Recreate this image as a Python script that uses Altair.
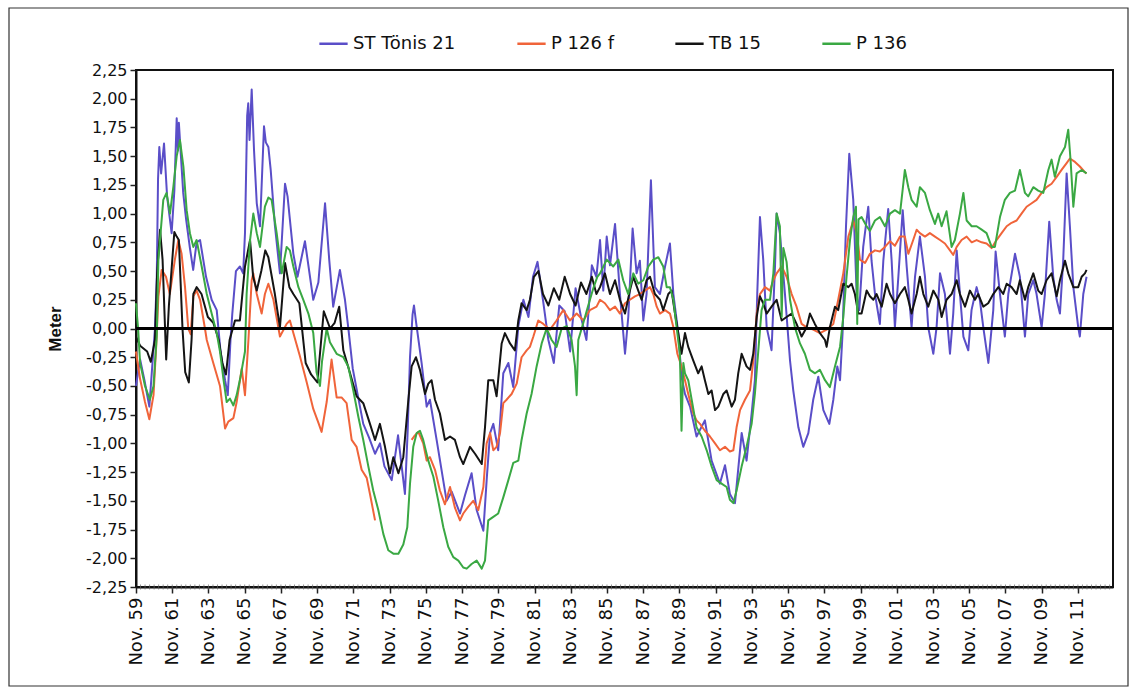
import altair as alt
import pandas as pd

# Groundwater level deviations (m) at four observation wells, Nov. 1959 - 2012
SERIES = ["ST Tönis 21", "P 126 f", "TB 15", "P 136"]
COLORS = ["#5a4ec8", "#f0643a", "#141414", "#3aa843"]

# (decimal year, level in m)
st_toenis_21 = [
    (1959.83, -0.50), (1960.06, -0.27), (1960.30, -0.45), (1960.57, -0.68), (1960.88, 0.00),
    (1960.98, 0.45), (1961.05, 1.30), (1961.12, 1.58), (1961.22, 1.35), (1961.38, 1.61),
    (1961.55, 1.15), (1961.80, 0.83), (1961.95, 1.20), (1962.08, 1.83), (1962.15, 1.55),
    (1962.20, 1.79), (1962.44, 1.18), (1962.60, 0.95), (1962.81, 0.70), (1962.99, 0.51),
    (1963.18, 0.75), (1963.37, 0.77), (1963.70, 0.45), (1964.01, 0.25), (1964.29, 0.16),
    (1964.50, -0.20), (1964.75, -0.45), (1964.90, -0.58), (1965.05, -0.10), (1965.15, 0.13),
    (1965.35, 0.50), (1965.57, 0.54), (1965.75, 0.48), (1965.85, 0.83), (1965.97, 1.85),
    (1966.03, 1.96), (1966.10, 1.64), (1966.22, 2.08), (1966.35, 1.55), (1966.50, 1.09),
    (1966.68, 0.89), (1966.90, 1.76), (1967.00, 1.62), (1967.14, 1.58), (1967.27, 1.38),
    (1967.50, 0.90), (1967.78, 0.48), (1968.06, 1.26), (1968.20, 1.15), (1968.52, 0.65),
    (1968.75, 0.45), (1969.16, 0.76), (1969.62, 0.25), (1969.90, 0.40), (1970.27, 1.09),
    (1970.50, 0.60), (1970.72, 0.19), (1971.09, 0.51), (1971.37, 0.25), (1971.55, 0.01),
    (1971.80, -0.35), (1972.10, -0.60), (1972.38, -0.83), (1972.70, -0.95), (1973.03, -1.09),
    (1973.30, -1.00), (1973.55, -1.20), (1973.95, -1.32), (1974.30, -0.93), (1974.68, -1.44),
    (1974.83, -0.90), (1974.96, -0.25), (1975.10, 0.12), (1975.18, 0.20), (1975.30, 0.05),
    (1975.60, -0.30), (1975.88, -0.68), (1976.06, -0.62), (1976.43, -0.97), (1976.98, -1.50),
    (1977.26, -1.42), (1977.72, -1.61), (1978.00, -1.45), (1978.36, -1.26), (1978.64, -1.58),
    (1979.01, -1.76), (1979.20, -1.30), (1979.38, -0.91), (1979.56, -0.83), (1979.83, -1.06),
    (1980.11, -0.39), (1980.39, -0.30), (1980.66, -0.51), (1980.94, 0.02), (1981.22, 0.25),
    (1981.50, 0.10), (1981.75, 0.45), (1982.00, 0.58), (1982.30, 0.25), (1982.60, -0.10),
    (1982.90, -0.30), (1983.20, 0.20), (1983.50, 0.15), (1983.80, -0.20), (1984.10, 0.35),
    (1984.40, 0.10), (1984.70, -0.10), (1985.00, 0.55), (1985.25, 0.45), (1985.45, 0.77),
    (1985.63, 0.33), (1985.82, 0.80), (1986.00, 0.55), (1986.28, 0.91), (1986.55, 0.30),
    (1986.83, -0.22), (1987.01, 0.10), (1987.25, 0.87), (1987.47, 0.48), (1987.65, 0.59),
    (1987.84, 0.07), (1988.02, 0.30), (1988.26, 1.29), (1988.48, 0.36), (1988.76, 0.30),
    (1989.04, 0.54), (1989.31, 0.74), (1989.50, 0.30), (1989.77, -0.04), (1989.95, -0.42),
    (1990.14, -0.57), (1990.42, -0.68), (1990.78, -0.94), (1991.24, -0.80), (1991.61, -1.15),
    (1992.07, -1.35), (1992.35, -1.19), (1992.62, -1.44), (1992.90, -1.52), (1993.27, -0.91),
    (1993.54, -1.15), (1993.82, -0.74), (1994.00, -0.45), (1994.13, 0.30), (1994.28, 0.97),
    (1994.46, 0.60), (1994.65, 0.01), (1994.92, -0.19), (1995.11, 0.54), (1995.20, 1.00),
    (1995.38, 0.83), (1995.66, 0.30), (1995.94, -0.28), (1996.12, -0.54), (1996.40, -0.86),
    (1996.67, -1.03), (1996.95, -0.91), (1997.22, -0.62), (1997.50, -0.42), (1997.78, -0.71),
    (1998.11, -0.83), (1998.33, -0.62), (1998.55, -0.33), (1998.70, -0.45), (1998.84, -0.04),
    (1999.03, 0.89), (1999.21, 1.52), (1999.43, 1.12), (1999.62, 0.30), (1999.76, 0.16),
    (1999.98, 0.71), (2000.26, 1.06), (2000.44, 0.59), (2000.63, 0.30), (2000.90, 0.04),
    (2001.09, 0.59), (2001.36, 1.04), (2001.55, 0.59), (2001.73, 0.01), (2001.92, 0.45),
    (2002.16, 1.03), (2002.38, 0.54), (2002.65, 0.01), (2002.84, 0.45), (2003.11, 0.80),
    (2003.39, 0.45), (2003.57, 0.01), (2003.85, -0.22), (2004.03, 0.01), (2004.22, 0.48),
    (2004.49, 0.30), (2004.77, -0.22), (2004.95, 0.13), (2005.14, 0.68), (2005.32, 0.30),
    (2005.51, -0.07), (2005.78, -0.19), (2005.96, 0.16), (2006.24, 0.36), (2006.42, 0.25),
    (2006.61, 0.01), (2006.89, -0.30), (2007.16, 0.16), (2007.29, 0.67), (2007.53, 0.30),
    (2007.80, -0.07), (2007.99, 0.30), (2008.36, 0.65), (2008.63, 0.45), (2008.91, -0.07),
    (2009.09, 0.30), (2009.37, 0.42), (2009.55, 0.30), (2009.83, 0.01), (2010.01, 0.30),
    (2010.25, 0.93), (2010.47, 0.45), (2010.66, 0.25), (2010.84, 0.13), (2011.02, 0.59),
    (2011.21, 1.35), (2011.39, 0.89), (2011.58, 0.36), (2011.85, 0.01), (2011.94, -0.07),
    (2012.13, 0.30), (2012.31, 0.45),
]

# P 126 f has no readings between early 1973 and early 1975
p126f_part1 = [
    (1959.83, -0.20), (1960.06, -0.44), (1960.33, -0.64), (1960.57, -0.79), (1960.80, -0.58),
    (1960.95, -0.15), (1961.07, 0.28), (1961.25, 0.51), (1961.49, 0.45), (1961.70, 0.30),
    (1961.98, 0.60), (1962.17, 0.77), (1962.35, 0.65), (1962.54, 0.36), (1962.72, 0.00),
    (1962.85, -0.05), (1963.00, 0.28), (1963.18, 0.33), (1963.37, 0.25), (1963.64, 0.00),
    (1963.74, -0.10), (1964.10, -0.30), (1964.47, -0.50), (1964.75, -0.87), (1964.93, -0.81),
    (1965.21, -0.78), (1965.39, -0.64), (1965.67, -0.35), (1965.85, -0.58), (1966.04, -0.10),
    (1966.22, 0.42), (1966.31, 0.48), (1966.50, 0.30), (1966.77, 0.13), (1966.95, 0.30),
    (1967.14, 0.39), (1967.42, 0.25), (1967.78, -0.07), (1968.15, 0.04), (1968.33, 0.07),
    (1968.52, -0.04), (1968.88, -0.24), (1969.26, -0.47), (1969.62, -0.70), (1969.90, -0.82),
    (1970.08, -0.90), (1970.36, -0.64), (1970.63, -0.27), (1970.91, -0.60), (1971.18, -0.60),
    (1971.46, -0.65), (1971.74, -0.97), (1972.01, -1.03), (1972.29, -1.23), (1972.57, -1.30),
    (1972.75, -1.44), (1973.03, -1.67),
]
p126f_part2 = [
    (1975.05, -0.97), (1975.23, -0.93), (1975.42, -0.90), (1975.69, -1.00), (1975.88, -1.15),
    (1976.06, -1.12), (1976.34, -1.23), (1976.61, -1.41), (1976.89, -1.53), (1977.17, -1.38),
    (1977.44, -1.56), (1977.72, -1.67), (1977.90, -1.61), (1978.18, -1.55), (1978.45, -1.50),
    (1978.73, -1.58), (1979.01, -1.38), (1979.19, -1.00), (1979.38, -0.91), (1979.56, -1.06),
    (1979.74, -1.03), (1979.93, -0.91), (1980.11, -0.65), (1980.29, -0.62), (1980.57, -0.57),
    (1980.85, -0.48), (1981.12, -0.25), (1981.40, -0.19), (1981.58, -0.16), (1981.77, -0.07),
    (1982.04, 0.07), (1982.32, 0.04), (1982.69, -0.01), (1983.05, 0.07), (1983.42, 0.16),
    (1983.79, 0.07), (1984.16, 0.13), (1984.53, 0.07), (1984.89, 0.16), (1985.26, 0.19),
    (1985.45, 0.25), (1985.72, 0.22), (1986.00, 0.16), (1986.28, 0.19), (1986.55, 0.13),
    (1986.83, 0.22), (1987.10, 0.25), (1987.38, 0.28), (1987.65, 0.30), (1987.93, 0.33),
    (1988.21, 0.36), (1988.39, 0.30), (1988.58, 0.19), (1988.76, 0.13), (1989.04, 0.16),
    (1989.31, 0.13), (1989.50, 0.01), (1989.72, -0.22), (1989.95, -0.33), (1990.14, -0.45),
    (1990.32, -0.57), (1990.60, -0.74), (1990.78, -0.80), (1990.97, -0.83), (1991.24, -0.89),
    (1991.52, -0.94), (1991.80, -1.00), (1992.07, -1.06), (1992.35, -1.03), (1992.62, -1.07),
    (1992.81, -1.06), (1992.99, -0.86), (1993.18, -0.71), (1993.45, -0.62), (1993.73, -0.54),
    (1993.91, -0.28), (1994.10, 0.13), (1994.28, 0.30), (1994.56, 0.36), (1994.83, 0.33),
    (1995.02, 0.42), (1995.20, 0.48), (1995.48, 0.54), (1995.75, 0.45), (1996.03, 0.30),
    (1996.30, 0.19), (1996.58, 0.04), (1996.86, 0.01), (1997.22, -0.01), (1997.59, -0.04),
    (1997.96, -0.01), (1998.33, 0.04), (1998.60, 0.25), (1998.88, 0.48), (1999.16, 0.80),
    (1999.43, 0.94), (1999.62, 0.83), (1999.80, 0.60), (2000.08, 0.57), (2000.35, 0.65),
    (2000.63, 0.68), (2000.90, 0.67), (2001.18, 0.71), (2001.46, 0.76), (2001.73, 0.72),
    (2002.01, 0.80), (2002.28, 0.80), (2002.47, 0.65), (2002.74, 0.77), (2002.93, 0.86),
    (2003.11, 0.83), (2003.39, 0.80), (2003.66, 0.83), (2003.94, 0.80), (2004.22, 0.77),
    (2004.49, 0.74), (2004.77, 0.68), (2004.95, 0.64), (2005.14, 0.71), (2005.41, 0.77),
    (2005.69, 0.80), (2005.97, 0.75), (2006.24, 0.77), (2006.52, 0.75), (2006.79, 0.74),
    (2007.07, 0.70), (2007.34, 0.77), (2007.62, 0.83), (2007.90, 0.89), (2008.17, 0.92),
    (2008.45, 0.94), (2008.72, 1.00), (2009.00, 1.06), (2009.28, 1.09), (2009.55, 1.12),
    (2009.83, 1.18), (2010.10, 1.23), (2010.38, 1.26), (2010.66, 1.32), (2010.93, 1.38),
    (2011.21, 1.44), (2011.39, 1.48), (2011.67, 1.45), (2011.94, 1.41), (2012.22, 1.36),
    (2012.31, 1.35),
]

tb_15 = [
    (1959.83, -0.07), (1960.06, -0.15), (1960.45, -0.20), (1960.65, -0.29), (1960.88, -0.10),
    (1961.00, 0.48), (1961.16, 0.86), (1961.30, 0.60), (1961.50, -0.27), (1961.65, 0.20),
    (1961.95, 0.84), (1962.08, 0.80), (1962.20, 0.77), (1962.40, 0.00), (1962.55, -0.38),
    (1962.75, -0.47), (1962.90, -0.10), (1963.00, 0.30), (1963.18, 0.36), (1963.45, 0.30),
    (1963.80, 0.10), (1964.10, 0.05), (1964.40, -0.10), (1964.60, -0.30), (1964.80, -0.40),
    (1965.00, -0.10), (1965.30, 0.07), (1965.57, 0.07), (1965.85, 0.54), (1966.13, 0.77),
    (1966.30, 0.45), (1966.50, 0.33), (1966.75, 0.50), (1966.97, 0.68), (1967.14, 0.62),
    (1967.50, 0.30), (1967.78, 0.01), (1968.06, 0.57), (1968.30, 0.36), (1968.52, 0.30),
    (1968.85, 0.22), (1969.20, -0.30), (1969.50, -0.40), (1969.85, -0.47), (1970.00, -0.20),
    (1970.20, 0.15), (1970.55, 0.00), (1970.80, 0.05), (1971.05, 0.19), (1971.28, -0.19),
    (1971.65, -0.39), (1972.01, -0.59), (1972.38, -0.65), (1972.75, -0.83), (1973.03, -0.97),
    (1973.30, -0.83), (1973.58, -1.03), (1973.85, -1.26), (1974.04, -1.12), (1974.32, -1.26),
    (1974.59, -1.12), (1974.87, -0.62), (1975.05, -0.33), (1975.29, -0.25), (1975.51, -0.36),
    (1975.79, -0.57), (1975.97, -0.48), (1976.15, -0.45), (1976.34, -0.62), (1976.61, -0.74),
    (1976.89, -0.97), (1977.17, -0.94), (1977.44, -0.97), (1977.72, -1.12), (1977.90, -1.18),
    (1978.27, -1.03), (1978.55, -1.09), (1978.92, -1.18), (1979.10, -0.86), (1979.28, -0.45),
    (1979.56, -0.45), (1979.74, -0.59), (1980.02, -0.13), (1980.20, -0.04), (1980.48, -0.13),
    (1980.75, -0.19), (1980.94, 0.07), (1981.12, 0.22), (1981.40, 0.16), (1981.58, 0.25),
    (1981.80, 0.45), (1982.05, 0.50), (1982.30, 0.30), (1982.60, 0.20), (1982.90, 0.35),
    (1983.20, 0.25), (1983.50, 0.45), (1983.80, 0.30), (1984.10, 0.20), (1984.40, 0.40),
    (1984.70, 0.30), (1985.00, 0.45), (1985.25, 0.30), (1985.45, 0.36), (1985.72, 0.48),
    (1986.00, 0.30), (1986.28, 0.42), (1986.55, 0.25), (1986.83, 0.13), (1987.10, 0.33),
    (1987.29, 0.45), (1987.56, 0.33), (1987.75, 0.25), (1988.02, 0.42), (1988.21, 0.45),
    (1988.48, 0.30), (1988.76, 0.25), (1988.94, 0.16), (1989.22, 0.30), (1989.40, 0.33),
    (1989.59, 0.13), (1989.77, -0.04), (1989.95, -0.22), (1990.14, -0.04), (1990.32, -0.16),
    (1990.60, -0.28), (1990.87, -0.39), (1991.06, -0.33), (1991.24, -0.45), (1991.43, -0.57),
    (1991.61, -0.54), (1991.80, -0.71), (1991.98, -0.68), (1992.26, -0.57), (1992.44, -0.54),
    (1992.72, -0.68), (1992.90, -0.62), (1993.08, -0.39), (1993.27, -0.22), (1993.54, -0.33),
    (1993.73, -0.36), (1993.91, -0.22), (1994.10, 0.10), (1994.28, 0.28), (1994.46, 0.22),
    (1994.65, 0.13), (1994.92, 0.19), (1995.20, 0.25), (1995.48, 0.07), (1995.75, 0.10),
    (1996.03, 0.13), (1996.30, 0.04), (1996.58, -0.07), (1996.86, 0.01), (1997.04, 0.13),
    (1997.31, 0.04), (1997.59, -0.04), (1997.87, -0.10), (1997.96, -0.16), (1998.14, 0.01),
    (1998.42, 0.19), (1998.60, 0.16), (1998.88, 0.39), (1999.16, 0.36), (1999.34, 0.39),
    (1999.52, 0.30), (1999.71, 0.13), (1999.89, 0.13), (2000.17, 0.33), (2000.35, 0.28),
    (2000.54, 0.25), (2000.72, 0.30), (2001.00, 0.19), (2001.27, 0.39), (2001.46, 0.30),
    (2001.73, 0.22), (2002.01, 0.30), (2002.28, 0.36), (2002.47, 0.25), (2002.65, 0.13),
    (2002.93, 0.30), (2003.11, 0.45), (2003.30, 0.30), (2003.57, 0.19), (2003.85, 0.33),
    (2004.13, 0.25), (2004.31, 0.10), (2004.58, 0.25), (2004.86, 0.30), (2005.14, 0.42),
    (2005.32, 0.30), (2005.60, 0.19), (2005.87, 0.33), (2006.15, 0.25), (2006.33, 0.30),
    (2006.61, 0.19), (2006.88, 0.22), (2007.16, 0.30), (2007.44, 0.36), (2007.71, 0.30),
    (2007.90, 0.39), (2008.17, 0.36), (2008.45, 0.30), (2008.63, 0.42), (2008.91, 0.25),
    (2009.09, 0.36), (2009.37, 0.48), (2009.64, 0.33), (2009.83, 0.30), (2010.10, 0.42),
    (2010.38, 0.48), (2010.66, 0.28), (2010.84, 0.42), (2011.12, 0.59), (2011.30, 0.48),
    (2011.58, 0.36), (2011.85, 0.36), (2012.04, 0.45), (2012.22, 0.48), (2012.31, 0.51),
]

p_136 = [
    (1959.83, 0.22), (1959.95, 0.00), (1960.06, -0.30), (1960.33, -0.50), (1960.60, -0.62),
    (1960.80, -0.50), (1960.98, -0.06), (1961.07, 0.60), (1961.34, 1.12), (1961.52, 1.18),
    (1961.71, 1.00), (1961.90, 1.24), (1962.08, 1.50), (1962.26, 1.64), (1962.45, 1.41),
    (1962.63, 1.03), (1962.81, 0.83), (1963.00, 0.71), (1963.18, 0.77), (1963.46, 0.54),
    (1963.74, 0.30), (1964.01, 0.13), (1964.29, -0.04), (1964.47, -0.20), (1964.66, -0.44),
    (1964.84, -0.64), (1965.02, -0.61), (1965.21, -0.67), (1965.39, -0.58), (1965.58, -0.44),
    (1965.85, -0.20), (1965.94, 0.30), (1966.13, 0.77), (1966.31, 1.00), (1966.50, 0.83),
    (1966.68, 0.71), (1966.95, 1.06), (1967.14, 1.14), (1967.32, 1.12), (1967.60, 0.83),
    (1967.88, 0.48), (1968.15, 0.71), (1968.33, 0.68), (1968.52, 0.54), (1968.80, 0.36),
    (1969.07, 0.25), (1969.35, 0.13), (1969.62, -0.04), (1969.80, -0.38), (1969.99, -0.50),
    (1970.10, -0.29), (1970.36, 0.00), (1970.54, -0.12), (1970.91, -0.22), (1971.28, -0.25),
    (1971.55, -0.33), (1971.83, -0.54), (1972.11, -0.77), (1972.38, -0.97), (1972.66, -1.20),
    (1972.93, -1.41), (1973.21, -1.58), (1973.49, -1.79), (1973.76, -1.93), (1974.04, -1.96),
    (1974.32, -1.96), (1974.59, -1.88), (1974.81, -1.73), (1974.96, -1.35), (1975.14, -1.03),
    (1975.33, -0.91), (1975.51, -0.89), (1975.69, -0.97), (1975.97, -1.15), (1976.25, -1.29),
    (1976.52, -1.50), (1976.80, -1.73), (1977.07, -1.90), (1977.35, -1.99), (1977.63, -2.02),
    (1977.90, -2.08), (1978.09, -2.09), (1978.36, -2.05), (1978.64, -2.02), (1978.92, -2.09),
    (1979.10, -2.02), (1979.28, -1.67), (1979.56, -1.64), (1979.83, -1.61), (1980.11, -1.47),
    (1980.39, -1.32), (1980.66, -1.17), (1980.94, -1.15), (1981.12, -0.97), (1981.40, -0.74),
    (1981.67, -0.57), (1981.95, -0.33), (1982.23, -0.13), (1982.50, 0.00), (1982.78, -0.10),
    (1983.05, -0.16), (1983.33, 0.00), (1983.61, 0.02), (1983.88, -0.10), (1984.07, -0.33),
    (1984.16, -0.58), (1984.25, -0.10), (1984.53, 0.05), (1984.80, 0.20), (1985.08, 0.35),
    (1985.30, 0.45), (1985.45, 0.48), (1985.82, 0.60), (1986.18, 0.54), (1986.46, 0.60),
    (1986.73, 0.42), (1987.01, 0.30), (1987.29, 0.48), (1987.56, 0.39), (1987.84, 0.42),
    (1988.12, 0.54), (1988.39, 0.60), (1988.67, 0.62), (1988.94, 0.54), (1989.13, 0.36),
    (1989.31, 0.36), (1989.50, 0.25), (1989.68, 0.01), (1989.86, -0.22), (1989.95, -0.89),
    (1990.05, -0.30), (1990.14, -0.39), (1990.32, -0.45), (1990.51, -0.62), (1990.78, -0.86),
    (1991.06, -0.94), (1991.34, -1.06), (1991.61, -1.20), (1991.89, -1.32), (1992.16, -1.35),
    (1992.44, -1.38), (1992.62, -1.49), (1992.81, -1.52), (1992.99, -1.41), (1993.27, -1.20),
    (1993.54, -1.03), (1993.82, -0.83), (1994.00, -0.57), (1994.19, -0.19), (1994.37, 0.16),
    (1994.55, 0.25), (1994.83, 0.25), (1995.02, 0.48), (1995.20, 1.00), (1995.38, 0.89),
    (1995.48, 0.10), (1995.57, 0.70), (1995.75, 0.58), (1995.94, 0.25), (1996.21, 0.01),
    (1996.49, -0.13), (1996.76, -0.22), (1997.04, -0.36), (1997.32, -0.39), (1997.59, -0.36),
    (1997.87, -0.45), (1998.14, -0.51), (1998.42, -0.33), (1998.70, -0.16), (1998.88, 0.10),
    (1999.06, 0.45), (1999.25, 0.77), (1999.43, 0.97), (1999.58, 1.06), (1999.65, 0.04),
    (1999.72, 0.95), (1999.89, 0.97), (2000.17, 0.89), (2000.35, 0.85), (2000.63, 0.94),
    (2000.90, 0.97), (2001.18, 0.89), (2001.46, 1.00), (2001.73, 1.03), (2002.01, 1.00),
    (2002.28, 1.38), (2002.47, 1.23), (2002.65, 1.12), (2002.93, 1.06), (2003.11, 1.23),
    (2003.39, 1.18), (2003.66, 1.03), (2003.94, 0.91), (2004.12, 1.00), (2004.31, 0.89),
    (2004.58, 1.02), (2004.86, 0.71), (2005.04, 0.77), (2005.32, 1.00), (2005.51, 1.18),
    (2005.69, 0.94), (2005.97, 0.89), (2006.24, 0.89), (2006.52, 0.86), (2006.79, 0.83),
    (2007.07, 0.71), (2007.25, 0.71), (2007.53, 0.97), (2007.80, 1.12), (2008.08, 1.18),
    (2008.36, 1.20), (2008.63, 1.38), (2008.91, 1.18), (2009.09, 1.15), (2009.37, 1.23),
    (2009.64, 1.20), (2009.92, 1.18), (2010.20, 1.38), (2010.38, 1.47), (2010.56, 1.32),
    (2010.84, 1.50), (2011.12, 1.58), (2011.30, 1.73), (2011.43, 1.46), (2011.58, 1.06),
    (2011.76, 1.35), (2012.04, 1.38), (2012.31, 1.35),
]

# Axis ticks: every second November, and the 0.25 m steps of the level axis
X_START, X_END = 1959.8333, 2013.77
nov_ticks = [round(X_START + 2 * k, 4) for k in range(27)]
quarter_ticks = [round(X_START + 0.25 * k, 4) for k in range(1, 216)]
level_ticks = [round(-2.25 + 0.25 * k, 2) for k in range(19)]

rows = []
for name, parts in [
    ("ST Tönis 21", [st_toenis_21]),
    ("P 126 f", [p126f_part1, p126f_part2]),
    ("TB 15", [tb_15]),
    ("P 136", [p_136]),
]:
    for i, part in enumerate(parts):
        for yr, v in part:
            rows.append({"series": name, "part": i, "year": yr, "level": v})
levels = pd.DataFrame(rows)

x_scale = alt.Scale(domain=[X_START, X_END], nice=False, zero=False)
y_scale = alt.Scale(domain=[-2.25, 2.25], nice=False, zero=False)
color_scale = alt.Scale(domain=SERIES, range=COLORS)

x_axis = alt.Axis(
    values=nov_ticks,
    labelExpr="'Nov. ' + slice('0' + (floor(datum.value + 0.01) % 100), -2)",
    labelAngle=270, labelAlign="right", labelBaseline="middle",
    labelFont="DejaVu Sans", labelFontSize=18, labelColor="#111111",
    labelPadding=4, labelOverlap=False, labelFlush=False,
    tickSize=6, tickColor="#222222", tickWidth=1.5,
    domainColor="#111111", domainWidth=2, grid=False, title=None,
)
y_axis = alt.Axis(
    values=level_ticks,
    labelExpr="(datum.value < -0.001 ? '-' : '') + replace(format(abs(datum.value), '.2f'), '.', ',')",
    labelFont="DejaVu Sans", labelFontSize=16, labelColor="#111111",
    labelPadding=3, labelOverlap=False, labelFlush=False,
    tickSize=6, tickColor="#222222", tickWidth=1.5,
    domainColor="#111111", domainWidth=2, grid=False,
    title="Meter", titleFont="Liberation Sans", titleFontWeight="bold", titleFontSize=17,
    titleColor="#111111", titleAngle=270, titleAlign="center", titleBaseline="middle",
    titleX=-81, titleY=258.5,
)
legend = alt.Legend(
    orient="none", legendX=182, legendY=-42, direction="horizontal", title=None,
    symbolType="stroke", symbolSize=800, symbolStrokeWidth=2.5,
    labelFont="DejaVu Sans", labelFontSize=18, labelColor="#111111",
    labelOffset=4, columnPadding=56,
)

base = alt.Chart(levels)
lines = []
for name in SERIES:
    lines.append(
        base.transform_filter(alt.datum.series == name)
        .mark_line(strokeWidth=2, strokeJoin="round")
        .encode(
            x=alt.X("year:Q", scale=x_scale, axis=x_axis),
            y=alt.Y("level:Q", scale=y_scale, axis=y_axis),
            color=alt.Color("series:N", scale=color_scale, legend=legend),
            detail="part:N",
        )
    )

zero_line = (
    alt.Chart(pd.DataFrame({"level": [0.0]}))
    .mark_rule(color="#000000", strokeWidth=3)
    .encode(y=alt.Y("level:Q", scale=y_scale, axis=y_axis))
)

minor_ticks = (
    alt.Chart(pd.DataFrame({"year": quarter_ticks}))
    .mark_tick(color="#666666", thickness=1, size=5, orient="vertical")
    .encode(x=alt.X("year:Q", scale=x_scale, axis=x_axis), y=alt.value(517))
)

frame = (
    alt.Chart(pd.DataFrame({"k": [0]}))
    .mark_rect(filled=False, stroke="#333333", strokeWidth=1.2)
    .encode(x=alt.value(-127), x2=alt.value(992), y=alt.value(-62), y2=alt.value(616))
)

chart = (
    alt.layer(frame, *lines, zero_line, minor_ticks)
    .properties(
        width=977, height=517,
        autosize=alt.AutoSizeParams(type="none"),
        padding={"left": 136, "top": 70, "right": 22, "bottom": 103},
        background="white",
    )
    .configure(font="DejaVu Sans")
    .configure_view(stroke="#111111", strokeWidth=2)
)

chart.save("out.html", embed_options={"renderer": "svg", "actions": False})
